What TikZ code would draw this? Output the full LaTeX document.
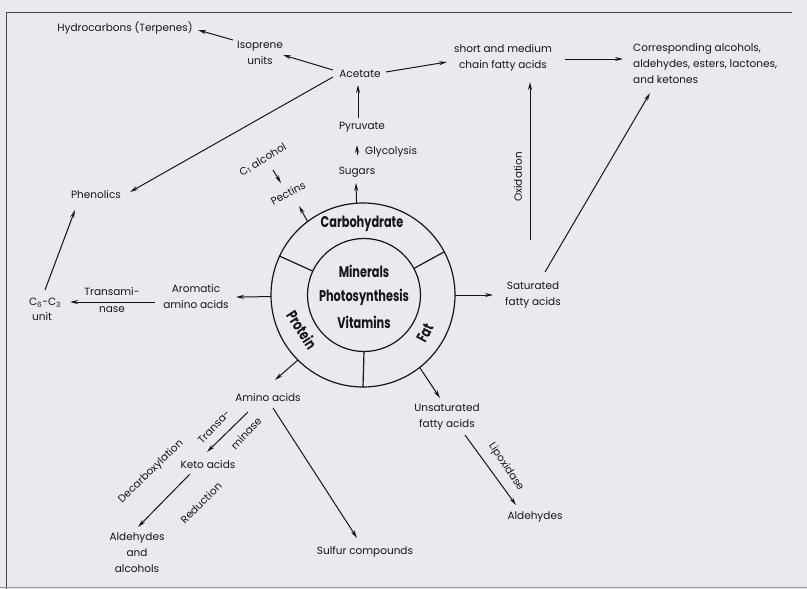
\documentclass[tikz,border=0pt]{standalone}
\usepackage{fontspec}
\usepackage{graphicx}
\setmainfont{Poppins}
\usetikzlibrary{arrows.meta}
\definecolor{paper}{RGB}{232,234,240}
\definecolor{ink}{RGB}{22,22,24}
\newcommand{\cnd}[1]{\scalebox{0.73}[1]{#1}}
\tikzset{
  lbl/.style={font=\fontsize{10.5}{16}\selectfont, text=ink, inner sep=0pt, align=center},
  arr/.style={draw=ink, line width=1pt, -{Stealth[length=8pt,width=4pt]}},
  bigtxt/.style={font=\fontsize{15.5}{25}\selectfont\bfseries, text=ink, inner sep=0pt},
  ringline/.style={draw=ink, line width=1.2pt},
  frame/.style={draw=ink!80, line width=0.8pt},
}
\begin{document}
\begin{tikzpicture}[x=1pt,y=-1pt]
\fill[paper] (0,0) rectangle (807,589);
\useasboundingbox (0,0) rectangle (807,589);
% frame
\draw[frame] (6,589) -- (6,12) -- (792,12);
\draw[draw=ink!45, line width=0.6pt] (0,587.5) -- (807,587.5);

% central wheel
\node[circle, ringline, minimum size=184pt, inner sep=0pt, outer sep=0pt] (ring) at (363,295) {};
\node[circle, ringline, minimum size=113pt, inner sep=0pt, outer sep=0pt] (core) at (364,295) {};
\draw[ringline] (core.155) -- (ring.155);
\draw[ringline] (core.28) -- (ring.28);
\draw[ringline] (core.270) -- (ring.270);
\node[bigtxt] (minerals) at (364,271) {\cnd{Minerals}};
\node[bigtxt] (photo) at (364,297) {\cnd{Photosynthesis}};
\node[bigtxt] (vitamins) at (364,322) {\cnd{Vitamins}};
\node[bigtxt] (carbo) at (362,224) {\cnd{Carbohydrate}};
\node[bigtxt, rotate=-57] (protein) at (302,330) {\cnd{Protein}};
\node[bigtxt, rotate=62] (fat) at (425,333) {\cnd{Fat}};

% labels
\node[lbl] (hydro) at (125,28) {Hydrocarbons (Terpenes)};
\node[lbl] (isoprene) at (260,53) {Isoprene\\units};
\node[lbl] (acetate) at (360,74) {Acetate};
\node[lbl] (phenolics) at (96,195) {Phenolics};
\node[lbl] (pyruvate) at (362,127) {Pyruvate};
\node[lbl, anchor=west] (glyco) at (365,152) {Glycolysis};
\node[lbl] (sugars) at (357,172) {Sugars};
\node[lbl, rotate=31] (c1) at (263,160) {C\textsubscript{1} alcohol};
\node[lbl, rotate=28] (pectins) at (288,193) {Pectins};
\node[lbl] (short) at (503,58) {short and medium\\chain fatty acids};
\node[lbl, align=left, anchor=west] (corr) at (633,64) {Corresponding alcohols,\\aldehydes, esters, lactones,\\and ketones};
\node[lbl, rotate=90] (oxid) at (518,177) {Oxidation};
\node[lbl] (sat) at (533,295) {Saturated\\fatty acids};
\node[lbl] (arom) at (196,297) {Aromatic\\amino acids};
\node[lbl] (transami) at (112,292) {Transami-};
\node[lbl] (nase) at (112,310) {nase};
\node[lbl] (c6c3) at (45,303) {C\textsubscript{6}-C\textsubscript{3}};
\node[lbl] (unit) at (42,317) {unit};
\node[lbl] (amino) at (268,398) {Amino acids};
\node[lbl, rotate=47] (transa) at (214,427) {Transa-};
\node[lbl, rotate=47] (minase) at (246,433) {minase};
\node[lbl] (keto) at (208,465) {Keto acids};
\node[lbl, rotate=44] (decarb) at (151,472) {Decarboxylation};
\node[lbl, rotate=45] (reduct) at (201,503) {Reduction};
\node[lbl] (aldalc) at (137,553) {Aldehydes\\and\\alcohols};
\node[lbl] (sulfur) at (365,552) {Sulfur compounds};
\node[lbl] (unsat) at (447,417) {Unsaturated\\fatty acids};
\node[lbl, rotate=-56] (lipox) at (506,467) {Lipoxidase};
\node[lbl] (aldeh) at (535,517) {Aldehydes};

% connectors
\draw[arr] ([shift={(-27,-13)}]isoprene.center) -- ([shift={(73,2)}]hydro.center);
\draw[arr] ([shift={(-27,-4)}]acetate.center) -- ([shift={(23,2)}]isoprene.center);
\draw[arr] ([shift={(-27,3)}]acetate.center) -- ([shift={(34,-3)}]phenolics.center);
\draw[arr] ([shift={(26,-2)}]acetate.center) -- ([shift={(-56,4)}]short.center);
\draw[arr] ([shift={(62,1)}]short.center) -- ([shift={(-10,-5)}]corr.west);
\draw[arr] ([shift={(-4,-9)}]pyruvate.center) -- ([shift={(-2,11)}]acetate.center);
\draw[arr] ([shift={(0,-17)}]sugars.center) -- ([shift={(-5,18)}]pyruvate.center);
\draw[arr] (ring.94) -- ([shift={(-1,11)}]sugars.center);
\draw[arr] (ring.127) -- ([shift={(11,13)}]pectins.center);
\draw[arr] ([shift={(10,10)}]c1.center) -- ([shift={(-7,-10)}]pectins.center);
\draw[arr] ([shift={(-3,-55)}]sat.center) -- ([shift={(27,24)}]short.center);
\draw[arr] ([shift={(12,-23)}]sat.center) -- ([shift={(17,29)}]corr.west);
\draw[arr] (ring.0) -- ([shift={(-40,0)}]sat.center);
\draw[arr] (ring.181) -- ([shift={(40,0)}]arom.center);
\draw[arr] ([shift={(-41,5)}]arom.center) -- ([shift={(25,-1)}]c6c3.center);
\draw[arr] ([shift={(0,-13)}]c6c3.center) -- ([shift={(-21,15)}]phenolics.center);
\draw[arr] (ring.225) -- ([shift={(7,-18)}]amino.center);
\draw[arr] (ring.308) -- ([shift={(-7,-19)}]unsat.center);
\draw[arr] ([shift={(-20,14)}]amino.center) -- ([shift={(-1,-13)}]keto.center);
\draw[arr] ([shift={(-18,9)}]keto.center) -- ([shift={(1,-26)}]aldalc.center);
\draw[arr] ([shift={(5,10)}]amino.center) -- ([shift={(-8,-14)}]sulfur.center);
\draw[arr] ([shift={(18,18)}]unsat.center) -- ([shift={(-19,-12)}]aldeh.center);
\end{tikzpicture}
\end{document}
